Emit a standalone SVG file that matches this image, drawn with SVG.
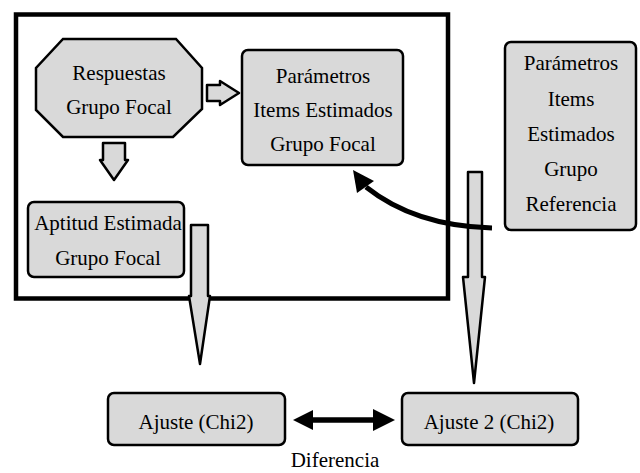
<svg xmlns="http://www.w3.org/2000/svg" width="640" height="473" viewBox="0 0 640 473">
<style>
.box{fill:#d9d9d9;stroke:#000;stroke-width:2.5}
.blk{fill:#d9d9d9;stroke:#000;stroke-width:2.5;stroke-linejoin:round}
text{font-family:"Liberation Serif","Times New Roman",serif;font-size:21px;fill:#000;text-anchor:middle}
</style>
<rect width="640" height="473" fill="#fff"/>
<g id="frame">
<rect x="16" y="14.5" width="432" height="284" fill="none" stroke="#000" stroke-width="4.5"/>
</g>
<g id="respuestas">
<polygon class="box" points="63,39 176,39 202,68 202,109 173,137 63,137 36,110 36,68"/>
<text x="119" y="80">Respuestas</text>
<text x="119" y="114">Grupo Focal</text>
</g>
<g id="parametros-focal">
<rect class="box" x="242" y="50" width="161" height="115" rx="6"/>
<text x="323" y="83">Parámetros</text>
<text x="323" y="117">Items Estimados</text>
<text x="323" y="151">Grupo Focal</text>
</g>
<g id="aptitud">
<rect class="box" x="28" y="202" width="156" height="75" rx="6"/>
<text x="108" y="230">Aptitud Estimada</text>
<text x="108" y="265">Grupo Focal</text>
</g>
<g id="parametros-ref">
<rect class="box" x="505" y="42" width="131" height="188" rx="6"/>
<text x="571" y="70">Parámetros</text>
<text x="571" y="106">Items</text>
<text x="571" y="141">Estimados</text>
<text x="571" y="176">Grupo</text>
<text x="571" y="211">Referencia</text>
</g>
<g id="ajuste1">
<rect class="box" x="108" y="393" width="177" height="52" rx="6"/>
<text x="196" y="429">Ajuste (Chi2)</text>
</g>
<g id="ajuste2">
<rect class="box" x="402" y="393" width="176" height="52" rx="6"/>
<text x="489" y="429">Ajuste 2 (Chi2)</text>
</g>
<g id="connectors">
<polygon class="blk" points="207,85 220,85 220,81 239,93 220,105 220,101 207,101"/>
<polygon class="blk" points="103,143 125,143 125,160 128,160 114,180 100,160 103,160"/>
<polygon class="blk" points="191,225 208,225 208,296 210,296 200,364 189,296 191,296"/>
<polygon class="blk" points="468,172 482,172 482,277 485,277 474,383 463,277 468,277"/>
<path d="M492,228 Q415,226 366,187" fill="none" stroke="#000" stroke-width="5"/>
<polygon points="353,170 357,193 374,181" fill="#000"/>
<line x1="305" y1="420" x2="383" y2="420" stroke="#000" stroke-width="5.5"/>
<polygon points="293,420 313,410 313,430" fill="#000"/>
<polygon points="395,420 373,409 373,431" fill="#000"/>
<text x="335" y="467">Diferencia</text>
</g>
</svg>
